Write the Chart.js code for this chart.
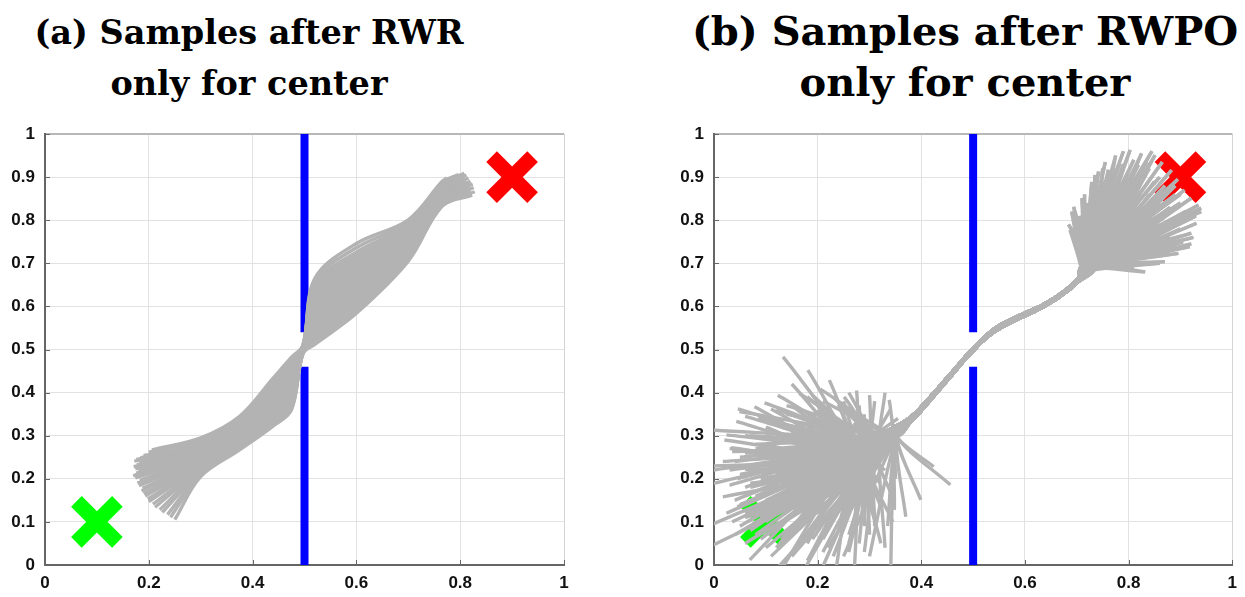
<!DOCTYPE html>
<html>
<head>
<meta charset="utf-8">
<script src="https://cdn.jsdelivr.net/npm/chart.js@4.4.1/dist/chart.umd.min.js"></script>
<style>
body { margin: 0; background: #fff; width: 1245px; height: 597px; overflow: hidden; position: relative; }
.title { position: absolute; font-family: "DejaVu Serif", serif; font-weight: bold; line-height: 51px; text-align: center; color: #000; white-space: nowrap; }
canvas { position: absolute; top: 0; }
</style>
</head>
<body>
<div class="title" style="left:0;width:498px;top:7px;font-size:33.5px">(a) Samples after RWR<br>only for center</div>
<div class="title" style="left:665px;width:600px;top:5px;font-size:40px">(b) Samples after RWPO<br>only for center</div>
<canvas id="chartA" width="620" height="597" style="left:0"></canvas>
<canvas id="chartB" width="623" height="597" style="left:622px"></canvas>
<script>
// axes
const xTicks = [0, 0.2, 0.4, 0.6, 0.8, 1];
const yTicks = [0, 0.1, 0.2, 0.3, 0.4, 0.5, 0.6, 0.7, 0.8, 0.9, 1];

// start / goal markers and the wall with its door
const startPoint = [0.1, 0.1];
const goalPoint = [0.9, 0.9];
const wallX = 0.5;
const doorLow = 0.46;
const doorHigh = 0.54;

// (a) RWR samples: start tips, y at fixed x stations, end tips
const startTipsA = [[0.250,0.105],[0.242,0.111],[0.236,0.117],[0.226,0.122],[0.221,0.128],[0.212,0.134],[0.208,0.141],[0.200,0.147],[0.198,0.153],[0.193,0.160],
    [0.190,0.166],[0.186,0.172],[0.188,0.178],[0.181,0.184],[0.178,0.190],[0.183,0.196],[0.174,0.202],[0.170,0.207],[0.176,0.213],[0.180,0.218],
    [0.174,0.223],[0.171,0.228],[0.177,0.232],[0.182,0.236],[0.172,0.241],[0.176,0.245],[0.184,0.249],[0.190,0.254],[0.200,0.262],[0.206,0.267]];
const stationXA = [0.30, 0.375, 0.44, 0.475, 0.497, 0.52, 0.60, 0.70, 0.765];
const stationYA = [
    [0.205,0.209,0.212,0.216,0.219,0.222,0.225,0.228,0.231,0.234,0.237,0.240,0.243,0.246,0.249,0.252,0.255,0.258,0.261,0.263,0.266,0.268,0.270,0.273,0.275,0.277,0.279,0.282,0.289,0.295],
    [0.267,0.270,0.273,0.276,0.279,0.282,0.285,0.288,0.291,0.294,0.297,0.299,0.302,0.305,0.307,0.310,0.312,0.315,0.318,0.320,0.323,0.325,0.328,0.330,0.332,0.335,0.337,0.339,0.342,0.345],
    [0.323,0.327,0.331,0.335,0.339,0.343,0.347,0.350,0.354,0.358,0.362,0.365,0.369,0.373,0.376,0.380,0.384,0.387,0.391,0.395,0.398,0.402,0.405,0.409,0.413,0.416,0.420,0.424,0.429,0.434],
    [0.360,0.364,0.368,0.372,0.376,0.380,0.384,0.388,0.392,0.396,0.401,0.405,0.410,0.414,0.419,0.423,0.428,0.432,0.437,0.441,0.446,0.450,0.454,0.459,0.463,0.467,0.471,0.475,0.479,0.482],
    [0.490,0.491,0.491,0.492,0.493,0.494,0.494,0.495,0.496,0.497,0.497,0.498,0.499,0.499,0.500,0.501,0.501,0.502,0.503,0.503,0.504,0.505,0.505,0.506,0.507,0.507,0.508,0.509,0.509,0.510],
    [0.512,0.515,0.518,0.522,0.526,0.530,0.534,0.538,0.543,0.548,0.553,0.558,0.563,0.568,0.574,0.580,0.586,0.592,0.598,0.604,0.610,0.616,0.622,0.628,0.634,0.640,0.646,0.652,0.659,0.665],
    [0.584,0.590,0.596,0.601,0.606,0.611,0.616,0.621,0.626,0.631,0.636,0.641,0.646,0.651,0.656,0.661,0.666,0.671,0.676,0.681,0.686,0.691,0.696,0.701,0.706,0.712,0.718,0.726,0.736,0.746],
    [0.705,0.709,0.713,0.716,0.719,0.722,0.725,0.728,0.731,0.734,0.737,0.740,0.743,0.746,0.749,0.752,0.755,0.758,0.761,0.764,0.767,0.770,0.773,0.776,0.779,0.782,0.786,0.791,0.796,0.801],
    [0.832,0.834,0.836,0.838,0.840,0.842,0.844,0.846,0.848,0.850,0.852,0.854,0.856,0.858,0.860,0.862,0.864,0.866,0.868,0.870,0.872,0.874,0.876,0.878,0.880,0.882,0.884,0.886,0.888,0.890]
];
const endTipsA = [[0.823,0.858],[0.815,0.861],[0.828,0.866],[0.806,0.864],[0.820,0.870],[0.812,0.872],[0.826,0.876],[0.800,0.870],[0.818,0.880],[0.808,0.878],
    [0.824,0.884],[0.796,0.876],[0.814,0.886],[0.803,0.884],[0.820,0.890],[0.792,0.882],[0.810,0.892],[0.799,0.889],[0.816,0.898],[0.788,0.888],
    [0.806,0.899],[0.795,0.894],[0.812,0.905],[0.784,0.892],[0.803,0.904],[0.792,0.900],[0.808,0.909],[0.781,0.897],[0.797,0.906],[0.774,0.898]];

// (b) RWPO samples: scattered start tips, a few routes through the door, scattered end tips
const sideTipsB = [[0.456,0.186],[0.424,0.228],[0.399,0.151],[0.370,0.112],[0.348,0.128],[0.335,0.090]];
const startTipsB = [
    [0.338,0.383],[0.300,0.394],[0.275,0.405],[0.251,0.390],[0.2225,0.429],[0.240,0.372],[0.205,0.408],[0.190,0.394],[0.181,0.452],[0.165,0.398],
    [0.150,0.420],[0.133,0.483],[0.140,0.370],[0.123,0.394],[0.110,0.362],[0.0975,0.376],[0.078,0.367],[0.060,0.345],[0.049,0.356],[0.046,0.362],
    [0.043,0.333],[0.085,0.340],[0.200,0.360],[0.170,0.350],
    [-0.05,0.315],[0.024,0.302],[0.020,0.290],[0.060,0.300],[0.033,0.272],[0.035,0.263],[0.080,0.280],[0.017,0.240],[-0.04,0.228],[0.050,0.250],
    [0.060,0.222],[-0.04,0.213],[0.045,0.200],[0.090,0.230],[0.070,0.180],[-0.05,0.175],[0.017,0.158],[0.040,0.150],[0.095,0.190],[0.110,0.260],
    [0.100,0.300],[0.060,0.160],[0.120,0.215],[0.030,0.185],
    [0.024,0.120],[0.060,0.120],[-0.05,0.070],[0.050,0.090],[-0.08,0.000],[0.069,0.012],[0.100,0.040],[0.080,0.070],[0.035,0.100],[0.090,0.110],
    [0.060,0.050],[0.120,0.080],[0.110,0.020],[0.045,0.135],[0.075,0.095],[0.130,0.050],[0.140,0.110],[0.095,0.140],[0.155,0.030],[0.125,0.130],
    [0.105,0.070],[0.065,0.100],
    [0.090,-0.050],[0.120,-0.030],[0.150,0.020],[0.160,-0.040],[0.180,0.010],[0.200,-0.030],[0.210,0.030],[0.230,-0.050],[0.250,0.020],[0.260,0.050],
    [0.270,-0.020],[0.290,0.030],[0.300,0.070],[0.322,0.050],[0.340,-0.050],[0.190,0.060]
];
const innerTipsB = [
    [0.28,0.37],[0.26,0.36],[0.24,0.34],[0.22,0.35],[0.21,0.33],[0.19,0.34],[0.18,0.32],[0.16,0.33],[0.15,0.31],[0.13,0.32],
    [0.12,0.30],[0.27,0.33],[0.25,0.38],[0.23,0.39],[0.20,0.37],[0.17,0.36],[0.14,0.35],[0.11,0.33],[0.29,0.35],[0.26,0.40],
    [0.10,0.28],[0.08,0.27],[0.12,0.27],[0.06,0.26],[0.09,0.25],[0.13,0.24],[0.07,0.23],[0.11,0.22],[0.15,0.22],[0.05,0.21],
    [0.09,0.20],[0.13,0.19],[0.07,0.19],[0.16,0.18],[0.11,0.17],[0.14,0.26],[0.17,0.24],[0.04,0.24],[0.08,0.215],[0.12,0.205],
    [0.08,0.16],[0.10,0.15],[0.13,0.15],[0.07,0.13],[0.11,0.12],[0.15,0.13],[0.09,0.10],[0.13,0.10],[0.17,0.11],[0.07,0.08],
    [0.11,0.08],[0.15,0.08],[0.09,0.06],[0.13,0.06],[0.17,0.06],[0.19,0.09],[0.06,0.11],[0.12,0.04],[0.16,0.04],[0.20,0.12],
    [0.19,0.03],[0.21,0.06],[0.23,0.02],[0.24,0.08],[0.22,0.11],[0.26,0.03],[0.27,0.09],[0.25,0.13],[0.28,0.05],[0.29,0.12],
    [0.30,0.02],[0.31,0.09],[0.32,0.14],[0.33,0.04],[0.20,0.16],[0.23,0.15],[0.26,0.17],[0.18,0.14],
    [0.34,0.36],[0.33,0.40],[0.31,0.38],[0.355,0.34],[0.35,0.20],[0.34,0.17],[0.32,0.19],[0.30,0.17],[0.345,0.10],[0.33,0.22],
    [0.22,0.30],[0.19,0.29],[0.16,0.28],[0.20,0.26],[0.18,0.21],[0.21,0.22],[0.24,0.28],[0.25,0.24],[0.23,0.19],[0.20,0.19],
    [0.17,0.15],[0.19,0.12],[0.22,0.14],[0.25,0.10],[0.28,0.15],[0.27,0.20],[0.14,0.17],[0.10,0.19],[0.06,0.18],[0.03,0.22],
    [0.03,0.27],[0.07,0.30],[0.10,0.32],[0.14,0.29],[0.05,0.14],[0.08,0.12],[0.04,0.07],[0.10,0.10],[0.14,0.07],[0.18,0.05],
    [0.22,0.04],[0.16,0.10],[0.12,0.14],[0.26,0.07],[0.29,0.09],[0.31,0.12],[0.21,0.38],[0.18,0.39],[0.15,0.37],[0.12,0.36]
];
const routesB = [
    [[0.352,0.300],[0.385,0.342],[0.425,0.395],[0.463,0.448],[0.500,0.497],[0.537,0.540],[0.580,0.567],[0.628,0.594],[0.668,0.624],[0.698,0.652],[0.712,0.680]],
    [[0.310,0.270],[0.350,0.312],[0.390,0.352],[0.430,0.405],[0.467,0.456],[0.502,0.503],[0.540,0.545],[0.582,0.572],[0.630,0.598],[0.670,0.628],[0.700,0.658],[0.718,0.688]],
    [[0.290,0.250],[0.345,0.303],[0.388,0.343],[0.427,0.396],[0.465,0.449],[0.499,0.499],[0.538,0.541],[0.578,0.568],[0.626,0.595],[0.666,0.625],[0.702,0.662],[0.725,0.695]],
    [[0.320,0.285],[0.355,0.320],[0.392,0.357],[0.432,0.410],[0.469,0.461],[0.503,0.507],[0.542,0.549],[0.584,0.576],[0.632,0.602],[0.672,0.632],[0.703,0.665],[0.708,0.690]],
    [[0.300,0.230],[0.347,0.298],[0.387,0.341],[0.428,0.398],[0.466,0.451],[0.500,0.498],[0.536,0.537],[0.576,0.565],[0.624,0.592],[0.664,0.620],[0.700,0.655],[0.735,0.690]],
    [[0.280,0.275],[0.340,0.315],[0.386,0.348],[0.429,0.404],[0.468,0.457],[0.501,0.502],[0.539,0.544],[0.580,0.570],[0.628,0.597],[0.668,0.627],[0.706,0.668],[0.715,0.700]]
];
const endTipsB = [
    [0.803,0.963],[0.783,0.932],[0.761,0.917],[0.742,0.913],[0.729,0.889],[0.710,0.851],[0.694,0.831],[0.687,0.777],[0.684,0.790],[0.690,0.820],
    [0.851,0.951],[0.819,0.928],[0.883,0.916],[0.908,0.870],[0.921,0.851],[0.940,0.820],[0.931,0.793],[0.921,0.770],[0.918,0.739],[0.896,0.723],
    [0.870,0.704],[0.832,0.680],[0.921,0.745],[0.940,0.828],[0.800,0.900],[0.820,0.880],[0.850,0.850],[0.870,0.820],[0.880,0.780],[0.860,0.760],
    [0.840,0.740],[0.800,0.710],[0.780,0.700],[0.760,0.860],[0.750,0.890],[0.770,0.880],[0.790,0.930],[0.810,0.940],[0.840,0.920],[0.860,0.900],
    [0.890,0.880],[0.900,0.840],[0.910,0.800],[0.890,0.750],[0.850,0.720],[0.820,0.700],[0.720,0.840],[0.700,0.800],[0.730,0.870],[0.740,0.830],
    [0.760,0.810],[0.780,0.840],[0.800,0.820],[0.820,0.800],[0.840,0.790],[0.860,0.800],[0.880,0.830],[0.900,0.860],[0.870,0.880],[0.830,0.900],
    [0.800,0.870],[0.770,0.900],[0.750,0.920],[0.790,0.960],[0.825,0.955],[0.835,0.935],[0.865,0.935],[0.895,0.895],[0.930,0.810],[0.925,0.760],
    [0.905,0.750],[0.880,0.725],[0.860,0.700],[0.810,0.690],[0.790,0.720],[0.770,0.730],[0.745,0.750],[0.725,0.780],[0.705,0.810],[0.715,0.860],
    [0.735,0.905],[0.755,0.935],[0.775,0.950],[0.845,0.960],[0.860,0.860],[0.840,0.830],[0.815,0.845],[0.790,0.800],[0.765,0.770],[0.880,0.800],
    [0.910,0.820],[0.935,0.835],
    [0.75,0.76],[0.77,0.78],[0.79,0.76],[0.81,0.78],[0.76,0.80],[0.78,0.82],[0.74,0.79],[0.83,0.76],[0.85,0.78],[0.82,0.83],
    [0.80,0.85],[0.77,0.86],[0.74,0.86],[0.72,0.81],[0.84,0.86],[0.86,0.84],[0.88,0.76],[0.87,0.74],[0.83,0.72],[0.80,0.74],
    [0.76,0.74],[0.73,0.76],[0.78,0.89],[0.81,0.91],[0.85,0.89],[0.89,0.86],[0.90,0.78],[0.75,0.83],[0.79,0.88],[0.82,0.86]
];

const GRAY = '#b3b3b3';
const AXIS = '#666';
const tickFont = { family: '"Liberation Sans", Arial, sans-serif', size: 17, weight: 'bold' };

function toXY(points){
    return points.map(p => ({ x: p[0], y: p[1] }));
}

function sampleLine(points, tension){
    return {
        data: toXY(points),
        showLine: true,
        borderColor: GRAY,
        borderWidth: 3.4,
        pointRadius: 0,
        tension: tension,
        clip: 0,
        order: 0
    };
}

function markerSet(point, color){
    return {
        data: toXY([point]),
        showLine: false,
        pointStyle: 'crossRot',
        pointRadius: 29,
        pointBorderWidth: 15,
        pointBorderColor: color,
        pointBackgroundColor: color,
        clip: 0,
        order: 1
    };
}

function wallSets(){
    return [[[wallX, 0], [wallX, doorLow]], [[wallX, doorHigh], [wallX, 1]]].map(seg => ({
        data: toXY(seg),
        showLine: true,
        borderColor: '#0000ff',
        borderWidth: 8,
        pointRadius: 0,
        clip: 0,
        order: 1
    }));
}

function tickLabel(v){
    return String(Math.round(v * 10) / 10);
}

// small inward tick marks on the left and bottom axes
const innerTicks = {
    id: 'innerTicks',
    beforeDatasetsDraw(chart){
        const {ctx, chartArea, scales} = chart;
        ctx.save();
        ctx.strokeStyle = AXIS;
        ctx.lineWidth = 1;
        ctx.beginPath();
        xTicks.forEach(v => {
            const px = Math.round(scales.x.getPixelForValue(v)) + 0.5;
            ctx.moveTo(px, chartArea.bottom);
            ctx.lineTo(px, chartArea.bottom - 5);
        });
        yTicks.forEach(v => {
            const py = Math.round(scales.y.getPixelForValue(v)) + 0.5;
            ctx.moveTo(chartArea.left, py);
            ctx.lineTo(chartArea.left + 5, py);
        });
        ctx.stroke();
        ctx.restore();
    }
};

function scales(){
    return {
        x: {
            type: 'linear', min: 0, max: 1,
            afterBuildTicks: s => { s.ticks = xTicks.map(v => ({ value: v })); },
            afterFit: s => { s.height = 32; },
            ticks: { padding: 8, maxRotation: 0, color: '#111', font: tickFont, callback: tickLabel },
            grid: { drawTicks: false, color: c => c.tick && c.tick.value === 1 ? '#d4d4d4' : '#e2e2e2' },
            border: { color: AXIS, width: 2 }
        },
        y: {
            type: 'linear', min: 0, max: 1,
            afterBuildTicks: s => { s.ticks = yTicks.map(v => ({ value: v })); },
            afterFit: s => { s.width = 45; },
            ticks: { padding: 10, color: '#111', font: tickFont, callback: tickLabel },
            grid: {
                drawTicks: false,
                color: c => c.tick && c.tick.value === 1 ? '#b8b8b8' : '#e2e2e2',
                lineWidth: c => c.tick && c.tick.value === 1 ? 2 : 1
            },
            border: { color: AXIS, width: 2 }
        }
    };
}

function makeChart(canvas, datasets, padding){
    return new Chart(canvas, {
        type: 'scatter',
        data: { datasets: datasets },
        options: {
            responsive: false,
            animation: false,
            devicePixelRatio: 1,
            layout: { padding: padding, autoPadding: false },
            plugins: { legend: { display: false }, tooltip: { enabled: false } },
            scales: scales()
        },
        plugins: [innerTicks]
    });
}

// (a)
const setsA = [];
for(let i = 0; i < startTipsA.length; i++){
    const pts = [startTipsA[i]];
    stationXA.forEach((x, k) => pts.push([x, stationYA[k][i]]));
    pts.push(endTipsA[i]);
    setsA.push(sampleLine(pts, 0.35));
}
setsA.push(markerSet(startPoint, '#00ff00'), markerSet(goalPoint, '#ff0000'), ...wallSets());
makeChart(document.getElementById('chartA'), setsA, { top: 134, left: 0, right: 56, bottom: 0 });

// (b)
const setsB = [];
sideTipsB.forEach((tip, i) => {
    setsB.push(sampleLine([tip, ...routesB[0], endTipsB[i]], 0.3));
});
[...startTipsB, ...innerTipsB].forEach((tip, i) => {
    const end = endTipsB[(i + sideTipsB.length) % endTipsB.length];
    setsB.push(sampleLine([tip, ...routesB[i % routesB.length], end], 0.3));
});
setsB.push(markerSet(startPoint, '#00ff00'), markerSet(goalPoint, '#ff0000'), ...wallSets());
makeChart(document.getElementById('chartB'), setsB, { top: 134, left: 47, right: 11, bottom: 0 });
</script>
</body>
</html>
